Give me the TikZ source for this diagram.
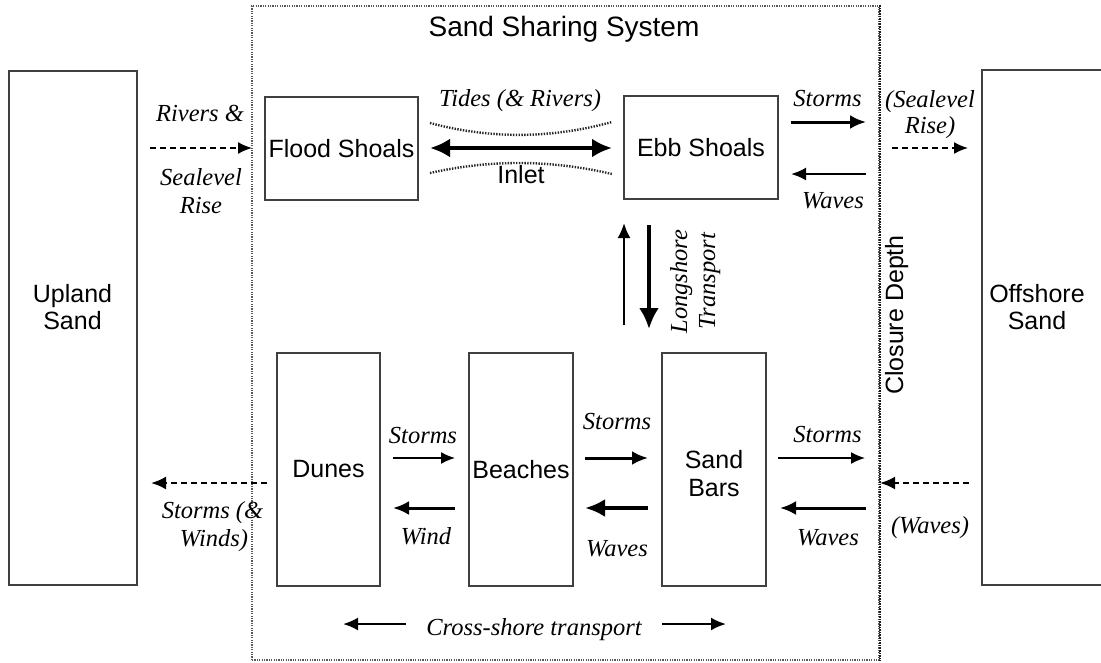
\documentclass[tikz,border=0pt]{standalone}
\usepackage{fontspec}
\setmainfont{Liberation Serif}
\setsansfont{Liberation Sans}
\usetikzlibrary{arrows.meta}
\begin{document}
\begin{tikzpicture}[x=1pt,y=-1pt,
  box/.style={draw=black!75, line width=1.5pt, inner sep=0pt, font=\sffamily\fontsize{25}{28}\selectfont},
  sf/.style={font=\sffamily\fontsize{25}{28}\selectfont, inner sep=0pt, anchor=base},
  ttl/.style={font=\sffamily\fontsize{28}{32}\selectfont, inner sep=0pt, anchor=base},
  it/.style={font=\itshape\fontsize{24.5}{28}\selectfont, inner sep=0pt, anchor=base},
  aa/.style={line width=1.6pt,-{Latex[length=14pt,width=12pt]}},
  ab/.style={line width=2.2pt,-{Latex[length=15pt,width=13pt]}},
  ac/.style={line width=3pt,-{Latex[length=16pt,width=14pt]}},
  ad/.style={line width=4pt,-{Latex[length=20pt,width=18pt]}},
  dsh/.style={dash pattern=on 6pt off 4pt},
  inletline/.style={line width=2.4pt, black!85, dash pattern=on 1.4pt off 1.4pt}
]
\useasboundingbox (0,0) rectangle (1101,662);

% frame (Sand Sharing System)
\node[draw=black!65, line width=1.5pt, dash pattern=on 1.2pt off 1.2pt,
      minimum width=627pt, minimum height=654pt, inner sep=0pt] (frame) at (565.5,333) {};
\draw[black!90, line width=2.2pt, dash pattern=on 1.6pt off 1pt] (frame.north east) -- (frame.south east);
\node[ttl] (title) at (564,36) {Sand Sharing System};
\node[sf, rotate=90] (closure) at (903,315) {Closure Depth};

% boxes
\node[box, minimum width=128pt, minimum height=514pt] (upland) at (73,328) {};
\node[sf] (uplandt1) at (72.5,302) {Upland};
\node[sf] (uplandt2) at (72.5,329) {Sand};
\node[box, minimum width=123pt, minimum height=515pt] (offshore) at (1043.5,327.5) {};
\node[sf] (offt1) at (1037,302) {Offshore};
\node[sf] (offt2) at (1037,329) {Sand};
\node[box, minimum width=153pt, minimum height=103pt] (flood) at (341.5,148.5) {Flood Shoals};
\node[box, minimum width=154pt, minimum height=103pt] (ebb) at (701,147.5) {Ebb Shoals};
\node[box, minimum width=103pt, minimum height=233pt] (dunes) at (328.5,469.5) {Dunes};
\node[box, minimum width=104pt, minimum height=233pt] (beaches) at (521,469.5) {Beaches};
\node[box, minimum width=104pt, minimum height=233pt] (bars) at (714,469.5) {};
\node[sf] (barst1) at (714,468) {Sand};
\node[sf] (barst2) at (714,496) {Bars};

% coordinates for free arrow ends
\coordinate (riv1) at (150,148);
\coordinate (riv2) at (252,148);
\coordinate (in1) at (430,148);
\coordinate (in2) at (612,148);
\coordinate (st1a) at (791,122);
\coordinate (st1b) at (866,122);
\coordinate (wv1a) at (866,174);
\coordinate (wv1b) at (791,174);
\coordinate (sl1) at (892,148);
\coordinate (sl2) at (968,148);
\coordinate (lu1) at (624,325);
\coordinate (lu2) at (624,223);
\coordinate (ld1) at (649,225);
\coordinate (ld2) at (649,329);
\coordinate (du1) at (267,483);
\coordinate (du2) at (151,483);
\coordinate (sdb1) at (393,458);
\coordinate (sdb2) at (455,458);
\coordinate (wd1) at (455,508);
\coordinate (wd2) at (393,508);
\coordinate (sbs1) at (585,458);
\coordinate (sbs2) at (648,458);
\coordinate (wbs1) at (648,508);
\coordinate (wbs2) at (585,508);
\coordinate (sso1) at (778,458);
\coordinate (sso2) at (865,458);
\coordinate (wso1) at (866,508);
\coordinate (wso2) at (780,508);
\coordinate (pw1) at (969,483);
\coordinate (pw2) at (880,483);
\coordinate (cl1) at (406,624);
\coordinate (cl2) at (343,624);
\coordinate (cr1) at (662,624);
\coordinate (cr2) at (726,624);

% inlet
\draw[inletline] (430,123) .. controls (490,139) and (550,139) .. (612,122);
\draw[inletline] (430,173) .. controls (490,159.5) and (550,159.5) .. (612,174);
\draw[line width=4pt,{Latex[length=20pt,width=19pt]}-{Latex[length=20pt,width=19pt]}] (in1) -- (in2);
\node[it] (tides) at (520,106) {Tides (\& Rivers)};
\node[sf] (inlet) at (521,183) {Inlet};

% upper arrows
\draw[aa,dsh] (riv1) -- (riv2);
\node[it] (rv1) at (200,121) {Rivers \&};
\node[it] (rv2) at (201,185) {Sealevel};
\node[it] (rv3) at (201,213) {Rise};
\draw[ac] (st1a) -- (st1b);
\node[it] (sto1) at (827.5,106) {Storms};
\draw[ab] (wv1a) -- (wv1b);
\node[it] (wav1) at (833,208) {Waves};
\draw[aa,dsh] (sl1) -- (sl2);
\node[it] (sea1) at (930,107) {(Sealevel};
\node[it] (sea2) at (930,133) {Rise)};

% longshore
\draw[ab] (lu1) -- (lu2);
\draw[line width=4pt,-{Latex[length=21pt,width=20pt]}] (ld1) -- (ld2);
\node[it, rotate=90] (long1) at (687,281.5) {Longshore};
\node[it, rotate=90] (long2) at (715,281) {Transport};

% lower arrows
\draw[ab,dsh] (du1) -- (du2);
\node[it] (sw1) at (212.5,518) {Storms (\&};
\node[it] (sw2) at (214,546) {Winds)};
\draw[aa] (sdb1) -- (sdb2);
\node[it] (sto2) at (423,443) {Storms};
\draw[ac] (wd1) -- (wd2);
\node[it] (wind) at (426,544) {Wind};
\draw[ac] (sbs1) -- (sbs2);
\node[it] (sto3) at (617,429) {Storms};
\draw[ad] (wbs1) -- (wbs2);
\node[it] (wav2) at (617,556) {Waves};
\draw[aa] (sso1) -- (sso2);
\node[it] (sto4) at (827.5,442) {Storms};
\draw[ac] (wso1) -- (wso2);
\node[it] (wav3) at (828,545) {Waves};
\draw[ab,dsh] (pw1) -- (pw2);
\node[it] (pwav) at (930,533) {(Waves)};

% cross-shore
\draw[ab] (cl1) -- (cl2);
\draw[ab] (cr1) -- (cr2);
\node[it] (cross) at (534,635) {Cross-shore transport};
\end{tikzpicture}
\end{document}
